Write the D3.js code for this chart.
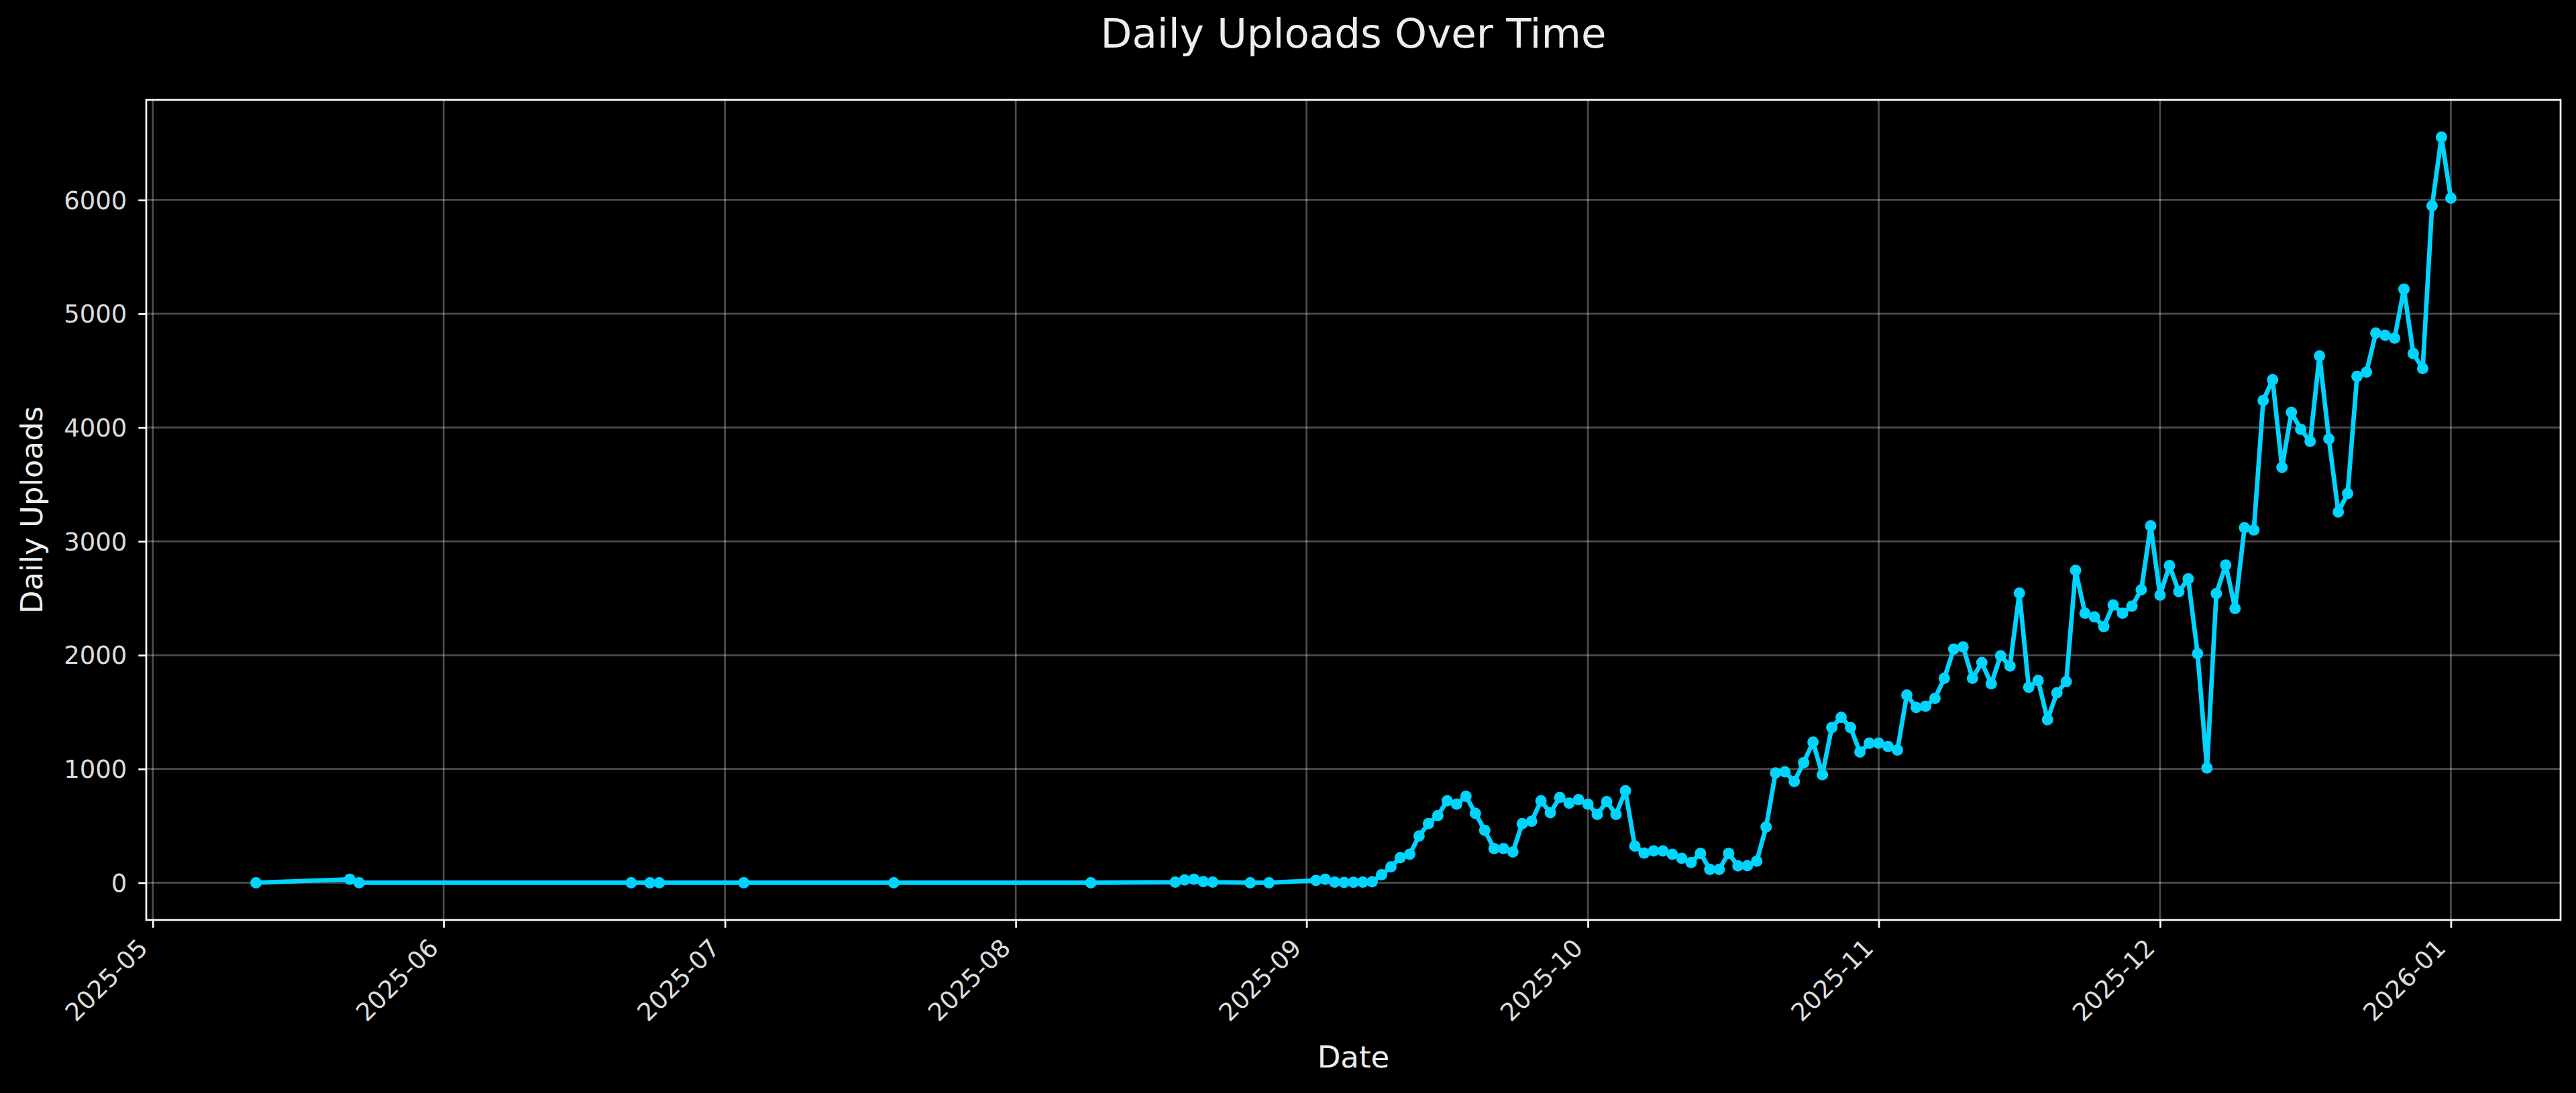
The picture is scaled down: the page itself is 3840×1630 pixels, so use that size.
<!DOCTYPE html>
<html>
<head>
<meta charset="utf-8">
<script src="https://cdn.jsdelivr.net/npm/d3@7"></script>
<style>
  html, body { margin: 0; padding: 0; background: #000; }
  svg { display: block; }
  text { font-family: "DejaVu Sans", sans-serif; }
</style>
</head>
<body>
<svg id="chart" width="3840" height="1630"></svg>
<script>
// ---- data ----
const dates = [
  "2025-05-12","2025-05-22","2025-05-23","2025-06-21","2025-06-23","2025-06-24","2025-07-03","2025-07-19",
  "2025-08-09","2025-08-18","2025-08-19","2025-08-20","2025-08-21","2025-08-22","2025-08-26","2025-08-28",
  "2025-09-02","2025-09-03","2025-09-04","2025-09-05","2025-09-06","2025-09-07","2025-09-08","2025-09-09",
  "2025-09-10","2025-09-11","2025-09-12","2025-09-13","2025-09-14","2025-09-15","2025-09-16","2025-09-17",
  "2025-09-18","2025-09-19","2025-09-20","2025-09-21","2025-09-22","2025-09-23","2025-09-24","2025-09-25",
  "2025-09-26","2025-09-27","2025-09-28","2025-09-29","2025-09-30","2025-10-01","2025-10-02","2025-10-03",
  "2025-10-04","2025-10-05","2025-10-06","2025-10-07","2025-10-08","2025-10-09","2025-10-10","2025-10-11",
  "2025-10-12","2025-10-13","2025-10-14","2025-10-15","2025-10-16","2025-10-17","2025-10-18","2025-10-19",
  "2025-10-20","2025-10-21","2025-10-22","2025-10-23","2025-10-24","2025-10-25","2025-10-26","2025-10-27",
  "2025-10-28","2025-10-29","2025-10-30","2025-10-31","2025-11-01","2025-11-02","2025-11-03","2025-11-04",
  "2025-11-05","2025-11-06","2025-11-07","2025-11-08","2025-11-09","2025-11-10","2025-11-11","2025-11-12",
  "2025-11-13","2025-11-14","2025-11-15","2025-11-16","2025-11-17","2025-11-18","2025-11-19","2025-11-20",
  "2025-11-21","2025-11-22","2025-11-23","2025-11-24","2025-11-25","2025-11-26","2025-11-27","2025-11-28",
  "2025-11-29","2025-11-30","2025-12-01","2025-12-02","2025-12-03","2025-12-04","2025-12-05","2025-12-06",
  "2025-12-07","2025-12-08","2025-12-09","2025-12-10","2025-12-11","2025-12-12","2025-12-13","2025-12-14",
  "2025-12-15","2025-12-16","2025-12-17","2025-12-18","2025-12-19","2025-12-20","2025-12-21","2025-12-22",
  "2025-12-23","2025-12-24","2025-12-25","2025-12-26","2025-12-27","2025-12-28","2025-12-29","2025-12-30",
  "2025-12-31","2026-01-01"
];
const uploads = [
  0, 30, 0, 0, 0, 0, 0, 0,
  0, 5, 25, 30, 10, 5, 0, 0,
  20, 30, 5, 3, 4, 6, 8, 70,
  140, 220, 250, 410, 520, 590, 720, 690,
  760, 610, 460, 300, 300, 270, 520, 540,
  720, 615, 750, 700, 730, 690, 600, 712,
  600, 808, 322, 260, 280, 280, 250, 215,
  178, 258, 118, 118, 258, 148, 150, 190,
  490, 965, 975, 890, 1055, 1236, 950, 1364,
  1453, 1364, 1148, 1226, 1226, 1197, 1167, 1649,
  1541, 1551, 1620, 1797, 2053, 2073, 1797, 1935,
  1748, 1994, 1905, 2545, 1718, 1777, 1433, 1669,
  1768, 2745, 2368, 2336, 2250, 2440, 2368, 2430,
  2575, 3136, 2527, 2787, 2558, 2670, 2014, 1008,
  2541, 2792, 2410, 3120, 3100, 4238, 4420, 3650,
  4133, 3985, 3878, 4630, 3900, 3258, 3421, 4450,
  4487, 4830, 4811, 4786, 5217, 4650, 4519, 5948,
  6552, 6016
];
const yTickValues = [0, 1000, 2000, 3000, 4000, 5000, 6000];
const titleText = "Daily Uploads Over Time";
const xLabelText = "Date";
const yLabelText = "Daily Uploads";

// ---- layout ----
const W = 3840, H = 1630;
const plot = { left: 218, right: 3817, top: 149, bottom: 1372 };
const lineColor = "#00d4ff";

const parse = d3.utcParse("%Y-%m-%d");
const data = dates.map((d, i) => ({ date: parse(d), value: uploads[i] }));

const [dMin, dMax] = d3.extent(data, d => d.date);
const span = dMax - dMin;
const x = d3.scaleUtc()
  .domain([new Date(+dMin - 0.05 * span), new Date(+dMax + 0.05 * span)])
  .range([plot.left, plot.right]);

const vMin = d3.min(uploads), vMax = d3.max(uploads);
const vSpan = vMax - vMin;
const y = d3.scaleLinear()
  .domain([vMin - 0.05 * vSpan, vMax + 0.05 * vSpan])
  .range([plot.bottom, plot.top]);

const svg = d3.select("#chart");
svg.append("rect").attr("width", W).attr("height", H).attr("fill", "#000");

const xTicks = x.ticks(d3.utcMonth.every(1));
const fmt = d3.utcFormat("%Y-%m");

// grid
const grid = svg.append("g");
grid.selectAll("line.v").data(xTicks).join("line")
  .attr("x1", d => x(d)).attr("x2", d => x(d))
  .attr("y1", plot.top).attr("y2", plot.bottom)
  .attr("stroke", "#fff").attr("stroke-opacity", 0.3).attr("stroke-width", 2.7);
grid.selectAll("line.h").data(yTickValues).join("line")
  .attr("x1", plot.left).attr("x2", plot.right)
  .attr("y1", d => y(d)).attr("y2", d => y(d))
  .attr("stroke", "#fff").attr("stroke-opacity", 0.3).attr("stroke-width", 2.7);

// data line + markers
const lineGen = d3.line().x(d => x(d.date)).y(d => y(d.value));
svg.append("path").datum(data)
  .attr("d", lineGen)
  .attr("fill", "none")
  .attr("stroke", lineColor)
  .attr("stroke-width", 6.7)
  .attr("stroke-linejoin", "round")
  .attr("stroke-linecap", "round");
svg.append("g").selectAll("circle").data(data).join("circle")
  .attr("cx", d => x(d.date)).attr("cy", d => y(d.value))
  .attr("r", 8.5).attr("fill", lineColor);

// axes via d3
const xAxis = d3.axisBottom(x).tickValues(xTicks).tickFormat(fmt).tickSize(11.7).tickPadding(0);
const gx = svg.append("g").attr("transform", `translate(0,${plot.bottom})`).call(xAxis);
gx.select(".domain").remove();
gx.selectAll(".tick line").attr("stroke", "#fff").attr("stroke-width", 2.7);
gx.selectAll(".tick text")
  .attr("fill", "#dcdcdc")
  .attr("font-size", 37)
  .attr("text-anchor", "end")
  .attr("dy", null)
  .attr("y", null)
  .attr("transform", "translate(-6,44) rotate(-45)");

const yAxis = d3.axisLeft(y).tickValues(yTickValues).tickFormat(d3.format("d")).tickSize(11.7).tickPadding(17);
const gy = svg.append("g").attr("transform", `translate(${plot.left},0)`).call(yAxis);
gy.select(".domain").remove();
gy.selectAll(".tick line").attr("stroke", "#fff").attr("stroke-width", 2.7);
gy.selectAll(".tick text").attr("fill", "#dcdcdc").attr("font-size", 37).attr("dy", "0.35em");

// spines
svg.append("rect")
  .attr("x", plot.left).attr("y", plot.top)
  .attr("width", plot.right - plot.left).attr("height", plot.bottom - plot.top)
  .attr("fill", "none").attr("stroke", "#fff").attr("stroke-width", 2.7);

// labels
svg.append("text").text(titleText)
  .attr("x", (plot.left + plot.right) / 2).attr("y", 71)
  .attr("text-anchor", "middle").attr("font-size", 61).attr("fill", "#eeeeee");
svg.append("text").text(xLabelText)
  .attr("x", (plot.left + plot.right) / 2).attr("y", 1592)
  .attr("text-anchor", "middle").attr("font-size", 45).attr("fill", "#eeeeee");
svg.append("text").text(yLabelText)
  .attr("transform", `translate(63,${(plot.top + plot.bottom) / 2}) rotate(-90)`)
  .attr("text-anchor", "middle").attr("font-size", 45).attr("fill", "#eeeeee");
</script>
</body>
</html>
